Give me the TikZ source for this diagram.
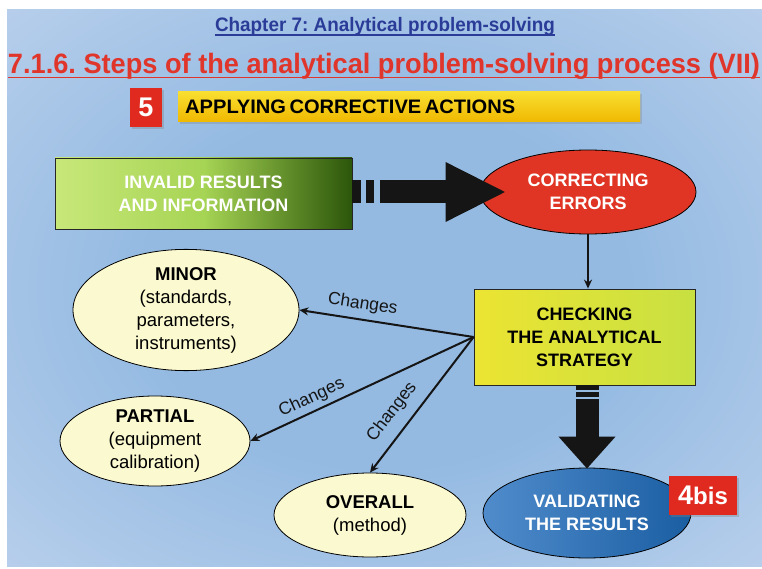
\documentclass[tikz,border=0pt]{standalone}
\usepackage{fontspec}
\usepackage{graphicx}
\setmainfont{Liberation Sans}
\usetikzlibrary{shapes.geometric,arrows.meta,shadows}
\frenchspacing

\definecolor{bgblue}{HTML}{94BAE2}
\definecolor{bgmid}{HTML}{C2D5EE}
\definecolor{bgpink}{HTML}{F4E8F6}
\definecolor{chapblue}{HTML}{2B3C98}
\definecolor{titlered}{HTML}{E0352B}
\definecolor{badgered}{HTML}{E02A20}
\definecolor{errred}{HTML}{E03524}
\definecolor{arrowblack}{HTML}{151515}
\definecolor{paleyellow}{HTML}{FBF9CF}
\definecolor{bartop}{HTML}{F8DE30}
\definecolor{barbottom}{HTML}{F0B800}
\pgfdeclareradialshading{bgshade}{\pgfpoint{0bp}{0bp}}{%
  color(0bp)=(bgblue); color(16bp)=(bgblue); color(42bp)=(bgmid); color(72bp)=(bgpink)}

\tikzset{
  badge/.style={fill=badgered, text=white, inner sep=0pt,
    font=\bfseries\fontsize{27}{27}\selectfont,
    drop shadow={opacity=0.35, shadow xshift=2pt, shadow yshift=-2pt}},
  bigbar/.style={draw=arrowblack, line width=23pt},
  thinarrow/.style={-{Stealth[length=9pt,width=8pt]}, line width=2pt, arrowblack},
  changes/.style={sloped, font=\fontsize{17.5}{18}\selectfont, inner sep=2pt},
  choice/.style={ellipse, draw=black, line width=0.8pt, fill=paleyellow, inner sep=0pt,
    align=center, font=\fontsize{18.5}{23}\selectfont},
  stepfont/.style={align=center, font=\bfseries\fontsize{18}{23}\selectfont}
}

\begin{document}
\begin{tikzpicture}[x=1pt, y=-1pt]
  \useasboundingbox (0,0) rectangle (762,569);
  \shade[shading=bgshade] (7,10) rectangle (762,566);

  % headings
  \node[anchor=base, inner sep=0pt, text=chapblue] (chapter) at (385,32)
    {\resizebox{340pt}{\height}{\bfseries\fontsize{19.5}{20}\selectfont Chapter 7: Analytical problem-solving}};
  \draw[chapblue, line width=1.2pt] ([yshift=-3pt]chapter.base west) -- ([yshift=-3pt]chapter.base east);
  \node[anchor=base, inner sep=0pt, text=titlered] (title) at (384,74)
    {\resizebox{752pt}{\height}{\bfseries\fontsize{28}{30}\selectfont 7.1.6. Steps of the analytical problem-solving process (VII)}};
  \draw[titlered, line width=1.8pt] ([yshift=-3.5pt]title.base west) -- ([yshift=-3.5pt]title.base east);

  \node[badge, minimum width=32pt, minimum height=39pt] (five) at (146,107.5) {5};
  \node[anchor=west, top color=bartop, bottom color=barbottom,
    minimum width=462pt, minimum height=30pt, inner xsep=7pt, text width=448pt, align=left,
    drop shadow={opacity=0.3, shadow xshift=2pt, shadow yshift=-2pt}] (applying) at (178,107)
    {\resizebox{330pt}{\height}{\bfseries\fontsize{19.5}{20}\selectfont APPLYING CORRECTIVE ACTIONS}};

  % main chain
  \node[stepfont, text=white, draw=black!85, line width=0.8pt, minimum width=297pt, minimum height=71pt,
    left color={rgb,255:red,200;green,232;blue,122}, right color={rgb,255:red,44;green,86;blue,10},
    middle color={rgb,255:red,166;green,212;blue,84}] (invalid) at (203.5,193.5)
    {INVALID RESULTS\\AND INFORMATION};
  \node[stepfont, text=white, ellipse, draw=black, line width=0.8pt, fill=errred,
    minimum width=216pt, minimum height=84pt, inner sep=0pt] (correct) at (588,192)
    {CORRECTING\\ERRORS};
  \node[stepfont, draw=black!85, line width=0.8pt, minimum width=221pt, minimum height=96pt,
    left color={rgb,255:red,236;green,228;blue,50}, right color={rgb,255:red,200;green,224;blue,66}] (check) at (584.5,337)
    {CHECKING\\THE ANALYTICAL\\STRATEGY};
  \node[stepfont, text=white, ellipse, draw=black, line width=0.8pt, inner sep=0pt,
    minimum width=208pt, minimum height=90pt,
    left color={rgb,255:red,80;green,140;blue,204}, right color={rgb,255:red,26;green,94;blue,162}] (valid) at (587,513)
    {VALIDATING\\THE RESULTS};
  \node[badge, minimum width=68pt, minimum height=39pt] (bis) at (703,495.5)
    {4{\fontsize{24}{24}\selectfont bis}};

  \node[choice, minimum width=226pt, minimum height=104pt] (minor) at (186,310)
    {\textbf{MINOR}\\(standards,\\parameters,\\instruments)};
  \node[choice, minimum width=190pt, minimum height=90pt] (partial) at (155,441)
    {\textbf{PARTIAL}\\(equipment\\calibration)};
  \node[choice, minimum width=192pt, minimum height=84pt] (overall) at (370,515)
    {\textbf{OVERALL}\\(method)};

  % big arrows
  \draw[bigbar] (invalid.east |- correct.west) -- ++(9,0);
  \draw[bigbar] ([xshift=14pt]invalid.east |- correct.west) -- ++(8,0);
  \draw[bigbar, -{Triangle[length=61pt,width=55pt]}] ([xshift=28pt]invalid.east |- correct.west) -- ([xshift=27pt]correct.west);
  \draw[bigbar] (valid.north |- check.south) -- ++(0,5);
  \draw[bigbar] ([yshift=-7pt]valid.north |- check.south) -- ++(0,5);
  \draw[bigbar, -{Triangle[length=32pt,width=55pt]}] ([yshift=-14pt]valid.north |- check.south) -- ([yshift=-1pt]valid.north);

  % thin arrows
  \draw[thinarrow] (correct.south) -- (correct.south |- check.north);
  \draw[thinarrow] (check.west) -- node[changes, pos=0.65, above=4pt] {Changes} (minor.east);
  \draw[thinarrow] (check.west) -- node[changes, pos=0.70, above=2pt] {Changes} (partial.east);
  \draw[thinarrow] (check.west) -- node[changes, pos=0.64, above=8pt] {Changes} (overall.north);
\end{tikzpicture}
\end{document}
